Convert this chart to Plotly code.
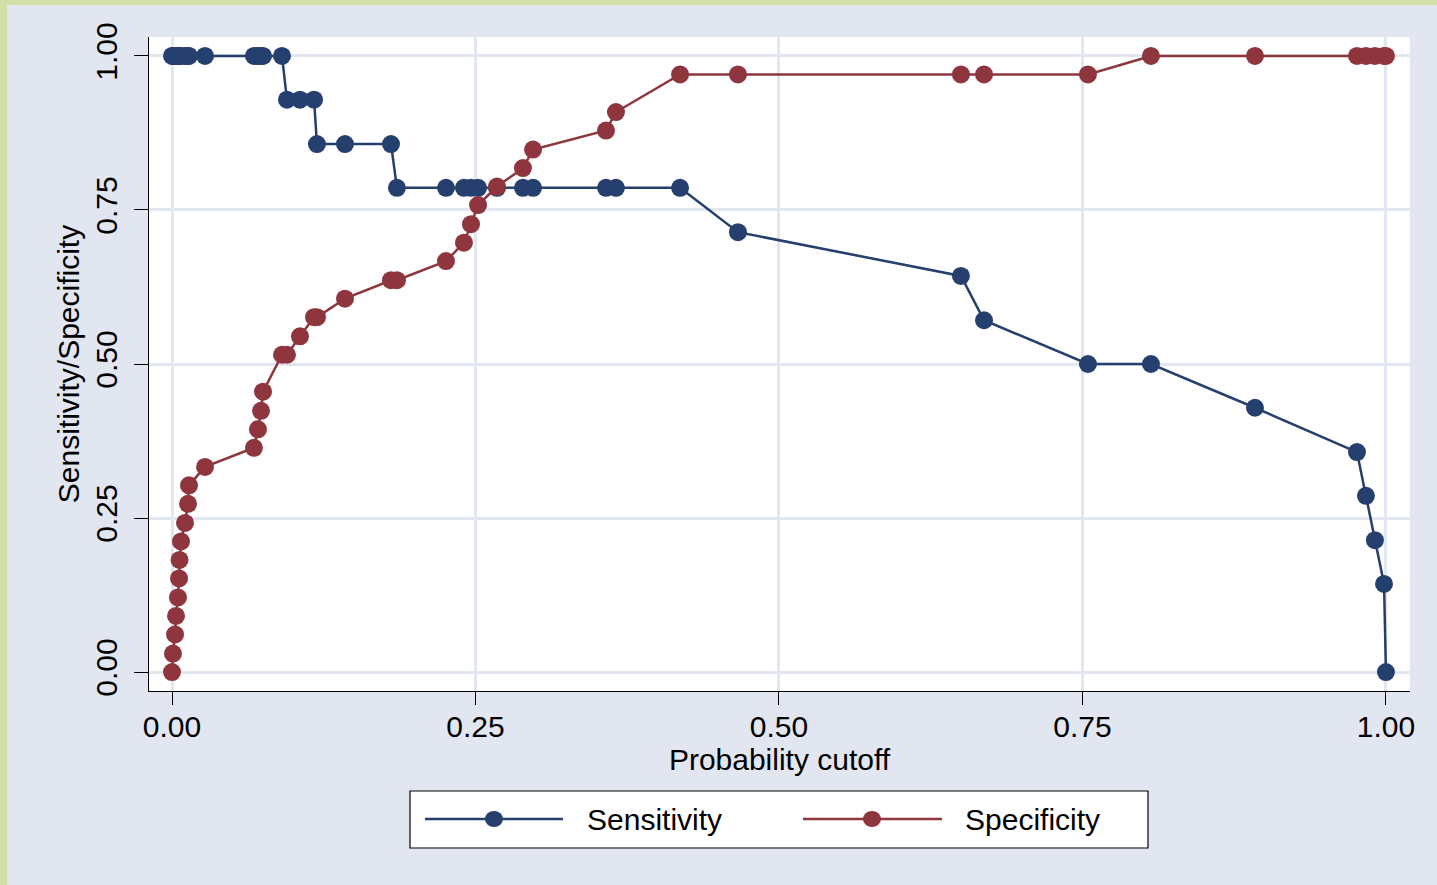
import plotly.graph_objects as go

# Probability cutoffs (x) and the corresponding sensitivity / specificity
cutoff = [0.0000, 0.0008, 0.0025, 0.0033, 0.0049, 0.0058, 0.0062, 0.0074, 0.0107,
          0.0132, 0.0140, 0.0272, 0.0675, 0.0708, 0.0733, 0.0750, 0.0906, 0.0947,
          0.1054, 0.1170, 0.1194, 0.1425, 0.1804, 0.1853, 0.2257, 0.2405, 0.2463,
          0.2521, 0.2677, 0.2891, 0.2974, 0.3575, 0.3657, 0.4185, 0.4662, 0.6499,
          0.6689, 0.7545, 0.8064, 0.8921, 0.9761, 0.9835, 0.9909, 0.9984, 1.0000]

sensitivity = [1.000, 1.000, 1.000, 1.000, 1.000, 1.000, 1.000, 1.000, 1.000,
               1.000, 1.000, 1.000, 1.000, 1.000, 1.000, 1.000, 1.000, 0.929,
               0.929, 0.929, 0.857, 0.857, 0.857, 0.786, 0.786, 0.786, 0.786,
               0.786, 0.786, 0.786, 0.786, 0.786, 0.786, 0.786, 0.714, 0.643,
               0.571, 0.500, 0.500, 0.429, 0.357, 0.286, 0.214, 0.143, 0.000]

specificity = [0.000, 0.030, 0.061, 0.091, 0.121, 0.152, 0.182, 0.212, 0.242,
               0.273, 0.303, 0.333, 0.364, 0.394, 0.424, 0.455, 0.515, 0.515,
               0.545, 0.576, 0.576, 0.606, 0.636, 0.636, 0.667, 0.697, 0.727,
               0.758, 0.788, 0.818, 0.848, 0.879, 0.909, 0.970, 0.970, 0.970,
               0.970, 0.970, 1.000, 1.000, 1.000, 1.000, 1.000, 1.000, 1.000]

tick_vals = [0.0, 0.25, 0.5, 0.75, 1.0]
tick_text = ["0.00", "0.25", "0.50", "0.75", "1.00"]
series_names = ["Sensitivity", "Specificity"]

NAVY = "#253f6e"
MAROON = "#8e353d"
BG = "#e1e6f0"
GRID = "#e1e6f0"
GREEN = "#d2e0a8"
FONT = "Liberation Sans, Arial, sans-serif"

W, H = 1437, 885
ML, MR, MT, MB = 149, 27, 37, 194
PW = W - ML - MR
PH = H - MT - MB

fig = go.Figure()
fig.add_trace(go.Scatter(
    x=cutoff, y=sensitivity, name=series_names[0], mode="lines+markers",
    line=dict(color=NAVY, width=2.5),
    marker=dict(color=NAVY, size=18, line=dict(width=0)),
))
fig.add_trace(go.Scatter(
    x=cutoff, y=specificity, name=series_names[1], mode="lines+markers",
    line=dict(color=MAROON, width=2.5),
    marker=dict(color=MAROON, size=18, line=dict(width=0)),
))


def px(xp):
    return (xp - ML) / PW


def py(yp):
    return (H - MB - yp) / PH


def paper_rect(x0, y0, x1, y1, **kw):
    return dict(type="rect", xref="paper", yref="paper",
                x0=px(x0), x1=px(x1), y0=py(y1), y1=py(y0), **kw)


shapes = [
    # green border strips of the outer frame
    paper_rect(0, 0, 7, H, fillcolor=GREEN, line=dict(width=0), layer="below"),
    paper_rect(0, 0, W, 5, fillcolor=GREEN, line=dict(width=0), layer="below"),
    # legend box
    paper_rect(410, 791, 1148, 848, fillcolor="white", line=dict(color="black", width=1.2)),
]
annotations = []

# legend entries (key line + marker + label)
legend_items = [(425, 563, 494, 585, NAVY), (803, 942, 872, 963, MAROON)]
ly = 819
for name, (l0, l1, mx, tx, col) in zip(series_names, legend_items):
    shapes.append(dict(type="line", xref="paper", yref="paper",
                       x0=px(l0), x1=px(l1), y0=py(ly), y1=py(ly),
                       line=dict(color=col, width=2.5)))
    shapes.append(dict(type="circle", xref="paper", yref="paper",
                       x0=px(mx - 9), x1=px(mx + 9), y0=py(ly + 8), y1=py(ly - 8),
                       fillcolor=col, line=dict(width=0)))
    annotations.append(dict(xref="paper", yref="paper", x=px(tx), y=py(ly),
                            xanchor="left", yanchor="middle", showarrow=False,
                            text=name, font=dict(size=30, color="black", family=FONT)))

fig.update_layout(
    width=W, height=H, autosize=False,
    margin=dict(l=ML, r=MR, t=MT, b=MB, pad=0),
    paper_bgcolor=BG, plot_bgcolor="white",
    font=dict(family=FONT, size=30, color="black"),
    shapes=shapes, annotations=annotations,
    showlegend=False,
    xaxis=dict(
        range=[-0.01895, 1.0198], tickvals=tick_vals, ticktext=tick_text,
        showgrid=True, gridcolor=GRID, gridwidth=3, zeroline=False,
        showline=True, linecolor="black", linewidth=1.2,
        ticks="outside", ticklen=13, tickcolor="black", tickwidth=1.2,
        tickfont=dict(size=30), ticklabelstandoff=-4,
        title=dict(text="Probability cutoff", font=dict(size=30), standoff=0),
    ),
    yaxis=dict(
        range=[-0.0308, 1.0308], tickvals=tick_vals, ticktext=tick_text,
        showgrid=True, gridcolor=GRID, gridwidth=3, zeroline=False,
        showline=True, linecolor="black", linewidth=1.2,
        ticks="outside", ticklen=14, tickcolor="black", tickwidth=1.2,
        tickangle=-90, tickfont=dict(size=30), ticklabelstandoff=5,
        title=dict(text="Sensitivity/Specificity", font=dict(size=30), standoff=1),
    ),
)

fig.write_html("out.html", config={"displayModeBar": False},
               post_script="document.body.style.margin='0';")
